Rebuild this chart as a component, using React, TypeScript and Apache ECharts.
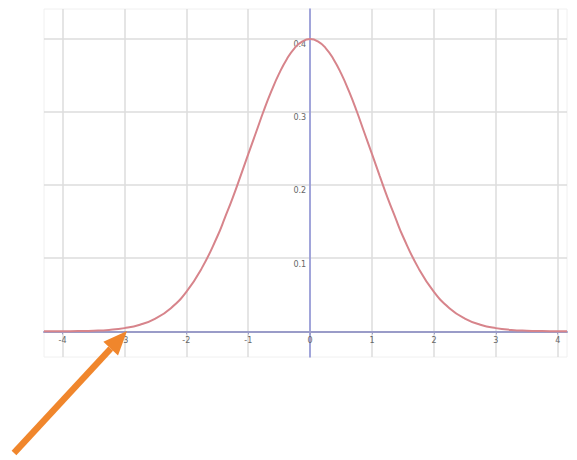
import React, { useEffect, useRef } from "react";
import * as echarts from "echarts";

// Curve sample points (x, height)
const xValues = [
  -4.3, -4, -3.75, -3.5, -3.25, -3, -2.75, -2.5, -2.25, -2, -1.75, -1.5, -1.375, -1.25, -1.125, -1, -0.875,
  -0.75, -0.625, -0.5, -0.375, -0.25, -0.125, 0, 0.125, 0.25, 0.375, 0.5, 0.625, 0.75, 0.875, 1, 1.125, 1.25,
  1.375, 1.5, 1.75, 2, 2.25, 2.5, 2.75, 3, 3.25, 3.5, 3.75, 4, 4.15,
];
const yValues = [
  0.0, 0.0001, 0.0004, 0.0009, 0.002, 0.0044, 0.0091, 0.0175, 0.0317, 0.054, 0.0863, 0.1295, 0.1556, 0.1826,
  0.2119, 0.242, 0.2714, 0.3011, 0.3282, 0.3521, 0.3718, 0.3867, 0.3958, 0.3989, 0.3958, 0.3867, 0.3718,
  0.3521, 0.3282, 0.3011, 0.2714, 0.242, 0.2119, 0.1826, 0.1556, 0.1295, 0.0863, 0.054, 0.0317, 0.0175,
  0.0091, 0.0044, 0.002, 0.0009, 0.0004, 0.0001, 0.0,
];
const xTicks = [-4, -3, -2, -1, 0, 1, 2, 3, 4];
const yTicks = [0, 0.1, 0.2, 0.3, 0.4];
const yLabels = [0.1, 0.2, 0.3, 0.4];

const X_MIN = -4.3;
const X_MAX = 4.15;
const Y_MIN = -0.035;
const Y_MAX = 0.44;

export default function App() {
  const ref = useRef<HTMLDivElement>(null);
  useEffect(() => {
    if (!ref.current) return;
    const chart = echarts.init(ref.current, undefined, { renderer: "svg" });
    const axisBlue = "#8a8fd6";
    const gridGray = "#dcdcdc";
    const gridLeft = 44;
    const gridRight = 10;
    const gridTop = 9;
    const gridBottom = 103;
    const plotW = 577 - gridLeft - gridRight;
    const plotH = 460 - gridTop - gridBottom;
    // shift axes so that they sit on the zero lines (labels follow)
    const yAxisOffset = -((0 - X_MIN) / (X_MAX - X_MIN)) * plotW;
    const xAxisOffset = -((0 - Y_MIN) / (Y_MAX - Y_MIN)) * plotH;
    const data = xValues.map((x, i) => [x, yValues[i]]);
    // arrow geometry
    const tail = [14, 453];
    const tip = [127, 331];
    const dx = tip[0] - tail[0];
    const dy = tip[1] - tail[1];
    const len = Math.sqrt(dx * dx + dy * dy);
    const ux = dx / len;
    const uy = dy / len;
    const headLen = 24;
    const headHalf = 10;
    const bc = [tip[0] - headLen * ux, tip[1] - headLen * uy];
    const nx = -uy;
    const ny = ux;
    chart.setOption({
      animation: false,
      backgroundColor: "#ffffff",
      grid: {
        left: gridLeft,
        right: gridRight,
        top: gridTop,
        bottom: gridBottom,
        show: true,
        borderColor: "#f0f0f0",
        borderWidth: 1,
      },
      xAxis: {
        type: "value",
        min: X_MIN,
        max: X_MAX,
        offset: xAxisOffset,
        axisLine: { onZero: false, lineStyle: { color: "#9a9cc8", width: 2 } },
        axisTick: {
          show: true,
          customValues: xTicks,
          length: 3,
          lineStyle: { color: "#9a9cc8" },
        },
        axisLabel: {
          customValues: xTicks,
          fontSize: 8,
          color: "#666",
          margin: 5,
          fontFamily: "DejaVu Sans",
          formatter: (v: number) => String(v),
        },
        splitLine: { show: true, lineStyle: { color: gridGray, width: 1.5 } },
      },
      yAxis: {
        type: "value",
        min: Y_MIN,
        max: Y_MAX,
        offset: yAxisOffset,
        axisLine: { onZero: false, lineStyle: { color: axisBlue, width: 1.5 } },
        axisTick: { show: false, customValues: yTicks },
        axisLabel: {
          customValues: yLabels,
          fontSize: 8,
          color: "#666",
          margin: 4,
          verticalAlign: "top",
          padding: [2, 0, 0, 0],
          fontFamily: "DejaVu Sans",
          formatter: (v: number) => v.toFixed(1),
        },
        splitLine: { show: true, lineStyle: { color: gridGray, width: 1.5 } },
      },
      series: [
        {
          type: "line",
          data,
          smooth: true,
          showSymbol: false,
          lineStyle: { color: "#d7848b", width: 2 },
        },
      ],
      graphic: [
        {
          type: "line",
          z: 100,
          shape: { x1: tail[0], y1: tail[1], x2: bc[0], y2: bc[1] },
          style: { stroke: "#f0862c", lineWidth: 6.5, lineCap: "butt" },
        },
        {
          type: "polygon",
          z: 100,
          shape: {
            points: [
              tip,
              [bc[0] + headHalf * nx, bc[1] + headHalf * ny],
              [bc[0] - headHalf * nx, bc[1] - headHalf * ny],
            ],
          },
          style: { fill: "#f0862c" },
        },
      ],
    });
    return () => chart.dispose();
  }, []);
  return (
    <div
      ref={ref}
      style={{ position: "fixed", left: 0, top: 0, width: 577, height: 460, background: "#fff" }}
    />
  );
}
